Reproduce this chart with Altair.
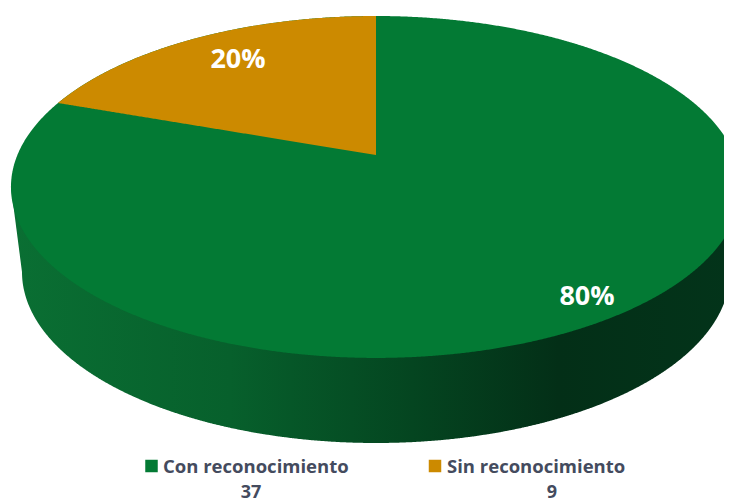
import numpy as np
import pandas as pd
import altair as alt

categories = ["Con reconocimiento", "Sin reconocimiento"]
counts = [37, 9]
percent_labels = ["80%", "20%"]
colors = ["#037a34", "#cc8a00"]

W, H = 716, 494
OFF = 8  # page margin

# perspective projection of a unit disc (page pixels)
CX, R, K = 376.0, 358.6, 0.187
A, B = -136.0, 155.0
# lower rim ellipse
RX2, RY2, CY2 = 354.0, 171.0, 272.0


def project(angle):
    u, v = np.sin(angle), np.cos(angle)
    d = 1 + K * v
    return CX + R * u / d - OFF, (A * v + B) / d - OFF


a0 = np.arccos(-K)
upper = np.linspace(-a0, a0, 721)
lower = np.linspace(2 * np.pi - a0, a0, 721)
xu, yu = project(upper)
xl, yl = project(lower)

# top face
face = pd.DataFrame({"x": xu, "y": yu, "y2": np.interp(xu, xl, yl)})

# share of the orange wedge, measured anticlockwise from 12 o'clock
share = counts[1] / sum(counts)
wedge_angles = np.linspace(-2 * np.pi * share, 0, 241)
wx, wy = project(wedge_angles)
apex_x, apex_y = CX - OFF, B - OFF
wedge = pd.DataFrame(
    {
        "x": wx,
        "y": wy,
        "y2": wy[0] + (apex_y - wy[0]) * (wx - wx[0]) / (apex_x - wx[0]),
    }
)

# side wall: its upper edge runs hidden under the top face, so no seam shows
t = np.linspace(0, np.pi, 721)
bx = CX - RX2 * np.cos(t) - OFF
by = CY2 + RY2 * np.sin(t) - OFF
wall_x = np.unique(np.concatenate([xl, bx]))
wall_top = (np.interp(wall_x, xl, yl) + np.interp(wall_x, xu, yu)) / 2
wall_bot = np.interp(wall_x, bx, by)
lm = wall_x < bx[0]
wall_bot[lm] = yl[0] + (by[0] - yl[0]) * (wall_x[lm] - xl[0]) / (bx[0] - xl[0])
rm = wall_x > bx[-1]
wall_bot[rm] = by[-1] + (yl[-1] - by[-1]) * (wall_x[rm] - bx[-1]) / (xl[-1] - bx[-1])
wall = pd.DataFrame({"x": wall_x, "y": wall_top, "y2": wall_bot})

xs = alt.Scale(domain=[0, W], nice=False, zero=False)
ys = alt.Scale(domain=[H, 0], nice=False, zero=False)


def area(df, color):
    return (
        alt.Chart(df)
        .mark_area(color=color, clip=True, interpolate="linear")
        .encode(
            x=alt.X("x:Q", scale=xs, axis=None),
            y=alt.Y("y:Q", scale=ys, axis=None),
            y2="y2:Q",
        )
    )


wall_grad = alt.Gradient(
    gradient="linear",
    x1=0,
    x2=1,
    y1=0,
    y2=0,
    stops=[
        alt.GradientStop(offset=0.0, color="#0a6f33"),
        alt.GradientStop(offset=0.3, color="#07602c"),
        alt.GradientStop(offset=0.55, color="#044520"),
        alt.GradientStop(offset=0.75, color="#032f17"),
        alt.GradientStop(offset=1.0, color="#03341a"),
    ],
)

layers = [area(wall, wall_grad), area(face, colors[0]), area(wedge, colors[1])]

FONT = "Open Sans"
pct_pos = [(587, 296.5), (238, 59.5)]
sq_pos = [(151.5, 466), (435, 466)]
txt_pos = [(163, 466.5), (447, 466.5)]
cnt_pos = [(251, 492.5), (552, 492.5)]

for i, cat in enumerate(categories):
    row = pd.DataFrame({"cat": [cat], "n": [str(counts[i])], "p": [percent_labels[i]]})
    base = alt.Chart(row)
    layers.append(
        base.mark_text(font=FONT, fontWeight="bold", fontSize=27, color="white", align="center", baseline="middle").encode(
            x=alt.value(pct_pos[i][0] - OFF), y=alt.value(pct_pos[i][1] - OFF), text="p:N"
        )
    )
    layers.append(
        base.mark_square(size=156, color=colors[i], opacity=1).encode(
            x=alt.value(sq_pos[i][0] - OFF), y=alt.value(sq_pos[i][1] - OFF)
        )
    )
    layers.append(
        base.mark_text(font=FONT, fontWeight="bold", fontSize=18.5, color="#444b5e", align="left", baseline="middle").encode(
            x=alt.value(txt_pos[i][0] - OFF), y=alt.value(txt_pos[i][1] - OFF), text="cat:N"
        )
    )
    layers.append(
        base.mark_text(font=FONT, fontWeight="bold", fontSize=18, color="#444b5e", align="center", baseline="middle").encode(
            x=alt.value(cnt_pos[i][0] - OFF), y=alt.value(cnt_pos[i][1] - OFF), text="n:N"
        )
    )

chart = (
    alt.layer(*layers)
    .properties(width=W, height=H, padding=0, autosize=alt.AutoSizeParams(type="none"), background="white")
    .configure_view(stroke=None)
)

chart.save("out.html", embed_options={"renderer": "svg", "actions": False})
